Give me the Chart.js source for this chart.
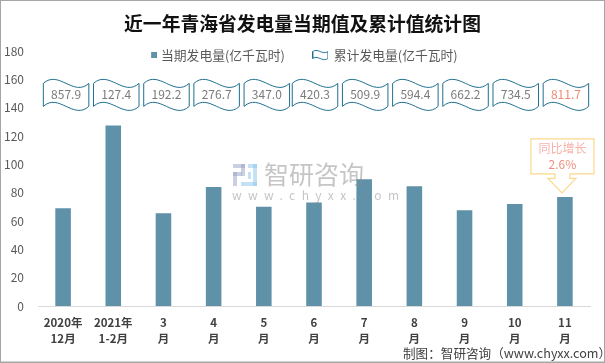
<!DOCTYPE html>
<html>
<head>
<meta charset="utf-8">
<script src="https://cdn.jsdelivr.net/npm/chart.js@4"></script>
<style>
html, body { margin: 0; padding: 0; background: #fff; }
canvas { display: block; }
</style>
</head>
<body>
<canvas id="chart" width="605" height="363"></canvas>
<script>
var categories = [["2020年", "12月"], ["2021年", "1-2月"], ["3", "月"], ["4", "月"], ["5", "月"], ["6", "月"], ["7", "月"], ["8", "月"], ["9", "月"], ["10", "月"], ["11", "月"]];
var currentValues = [69, 127.4, 65.5, 84, 70, 73, 89.5, 84.5, 67.5, 72, 77];
var cumulativeValues = [857.9, 127.4, 192.2, 276.7, 347.0, 420.3, 509.9, 594.4, 662.2, 734.5, 811.7];
var yearOnYear = "2.6%";
var yTicks = [0, 20, 40, 60, 80, 100, 120, 140, 160, 180];

var CJK = '"Noto Sans CJK SC", sans-serif';
var BAR_COLOR = "#5f91a9";
var WAVE_COLOR = "#1f6f8f";
var LEGEND_GAP = 28.6;

function wavePath(ctx, l, t, w, h) {
	// flag shape: same wave on top and bottom edge
	var a = 14;
	ctx.beginPath();
	ctx.moveTo(l, t);
	ctx.bezierCurveTo(l + w / 3, t - a, l + w * 2 / 3, t + a, l + w, t);
	ctx.lineTo(l + w, t + h);
	ctx.bezierCurveTo(l + w * 2 / 3, t + h + a, l + w / 3, t + h - a, l, t + h);
	ctx.closePath();
}

function squareIcon() {
	var c = document.createElement("canvas");
	c.width = 19; c.height = 8;
	var g = c.getContext("2d");
	g.fillStyle = BAR_COLOR;
	g.fillRect(13, 1, 6, 6);
	return c;
}

function waveIcon() {
	var c = document.createElement("canvas");
	c.width = 16; c.height = 12;
	var g = c.getContext("2d");
	g.strokeStyle = WAVE_COLOR;
	g.lineWidth = 1;
	var a = 4;
	g.beginPath();
	g.moveTo(0.5, 2.5);
	g.bezierCurveTo(5, 2.5 - a, 10, 2.5 + a, 15.5, 2.5);
	g.lineTo(15.5, 9.5);
	g.bezierCurveTo(10, 9.5 + a, 5, 9.5 - a, 0.5, 9.5);
	g.closePath();
	g.stroke();
	return c;
}

var decorations = {
	id: "decorations",
	afterInit: function(chart) {
		// legend takes no room in the layout, it sits partly over the plot area
		var legend = chart.legend;
		var fit = legend.fit;
		legend.fit = function() {
			fit.call(this);
			this.height = 0;
		};
	},
	afterLayout: function(chart) {
		var legend = chart.legend;
		legend.left = 140.6 - LEGEND_GAP;
		legend.right = 605;
		legend.top = 48.6 - LEGEND_GAP;
		legend.bottom = 70;
	},
	afterDatasetsDraw: function(chart) {
		var ctx = chart.ctx;
		var y = chart.scales.y;
		var points = chart.getDatasetMeta(1).data;
		var bars = chart.getDatasetMeta(0).data;

		// wave boxes with the cumulative values
		ctx.save();
		points.forEach(function(p, i) {
			var cx = p.x + (i < 5 ? 3 : 1);
			var cy = y.getPixelForValue(149);
			var w = 45.5, h = 23;
			ctx.fillStyle = "#fff";
			ctx.strokeStyle = WAVE_COLOR;
			ctx.lineWidth = 1;
			wavePath(ctx, cx - w / 2, cy - h / 2, w, h);
			ctx.fill();
			ctx.stroke();
			ctx.fillStyle = i === points.length - 1 ? "#f08a72" : "#7b7b7b";
			ctx.font = "12px " + CJK;
			ctx.textAlign = "center";
			ctx.textBaseline = "middle";
			ctx.fillText(cumulativeValues[i].toFixed(1), cx, cy);
		});
		ctx.restore();

		// watermark
		ctx.save();
		ctx.fillStyle = "rgba(140,140,140,0.5)";
		ctx.font = "25px " + CJK;
		ctx.textAlign = "left";
		ctx.textBaseline = "middle";
		ctx.fillText("智研咨询", 264, 174);
		ctx.font = "12px " + CJK;
		ctx.letterSpacing = "6.4px";
		ctx.fillText("www.chyxx.com", 232, 195);
		ctx.letterSpacing = "0px";
		ctx.fillStyle = "rgba(150,160,200,0.5)";
		ctx.fillRect(233, 164, 12, 4);
		ctx.fillRect(241, 164, 4, 12);
		ctx.fillRect(233, 172, 9, 4);
		ctx.fillRect(233, 172, 4, 14);
		ctx.fillStyle = "rgba(140,195,235,0.5)";
		ctx.fillRect(248, 164, 9, 4);
		ctx.fillRect(253, 164, 4, 22);
		ctx.fillRect(241, 182, 16, 4);
		ctx.fillRect(248, 172, 3, 7);
		ctx.restore();

		// callout above the last bar
		var last = bars[bars.length - 1];
		var tipX = last.x - 3, tipY = last.y - 4;
		ctx.save();
		ctx.strokeStyle = "#fbd88c";
		ctx.fillStyle = "#fff";
		ctx.lineWidth = 1.2;
		ctx.beginPath();
		ctx.moveTo(tipX - 31, tipY - 54);
		ctx.lineTo(tipX + 32, tipY - 54);
		ctx.lineTo(tipX + 32, tipY - 19);
		ctx.lineTo(tipX + 8, tipY - 19);
		ctx.lineTo(tipX + 8, tipY - 14.5);
		ctx.lineTo(tipX + 14, tipY - 14.5);
		ctx.lineTo(tipX, tipY);
		ctx.lineTo(tipX - 14, tipY - 14.5);
		ctx.lineTo(tipX - 7, tipY - 14.5);
		ctx.lineTo(tipX - 7, tipY - 19);
		ctx.lineTo(tipX - 31, tipY - 19);
		ctx.closePath();
		ctx.fill();
		ctx.stroke();
		ctx.textAlign = "center";
		ctx.textBaseline = "middle";
		ctx.font = "12px " + CJK;
		ctx.fillStyle = "#f5b3aa";
		ctx.fillText("同比增长", tipX + 0.5, tipY - 44);
		ctx.fillStyle = "#ee8f7e";
		ctx.fillText(yearOnYear, tipX + 0.5, tipY - 28);
		ctx.restore();

		// source line and frame
		ctx.save();
		ctx.fillStyle = "#404040";
		ctx.font = "12.6px " + CJK;
		ctx.textAlign = "left";
		ctx.textBaseline = "middle";
		ctx.fillText("制图：智研咨询（www.chyxx.com）", 403, 353);
		ctx.strokeStyle = "#a6a6a6";
		ctx.lineWidth = 2;
		ctx.strokeRect(0, 0, chart.width, chart.height - 0.5);
		ctx.restore();
	}
};

new Chart(document.getElementById("chart").getContext("2d"), {
	data: {
		labels: categories,
		datasets: [{
			type: "bar",
			label: "当期发电量(亿千瓦时)",
			data: currentValues,
			backgroundColor: BAR_COLOR,
			barPercentage: 0.31,
			categoryPercentage: 1,
			order: 1
		}, {
			type: "line",
			label: "累计发电量(亿千瓦时)",
			data: cumulativeValues,
			yAxisID: "y2",
			showLine: false,
			pointRadius: 0,
			order: 0
		}]
	},
	options: {
		responsive: false,
		animation: false,
		plugins: {
			tooltip: { enabled: false },
			title: {
				display: true,
				text: "近一年青海省发电量当期值及累计值统计图",
				color: "#111",
				font: { family: CJK, size: 18.8, weight: "bold", lineHeight: 1.2 },
				padding: { top: 13, bottom: 15.4 }
			},
			legend: {
				display: true,
				position: "top",
				align: "start",
				labels: {
					usePointStyle: true,
					pointStyleWidth: 14,
					boxHeight: 12,
					padding: LEGEND_GAP,
					color: "#595959",
					font: { family: CJK, size: 12.8 },
					generateLabels: function() {
						return [
							{ text: "当期发电量(亿千瓦时)", pointStyle: squareIcon(), fontColor: "#595959", lineWidth: 0, datasetIndex: 0 },
							{ text: "累计发电量(亿千瓦时)", pointStyle: waveIcon(), fontColor: "#595959", lineWidth: 0, datasetIndex: 1 }
						];
					}
				}
			}
		},
		scales: {
			x: {
				grid: { display: false, drawTicks: false },
				border: { color: "#d9d9d9", width: 1 },
				ticks: {
					color: "#404040",
					maxRotation: 0,
					autoSkip: false,
					padding: 9,
					font: { family: CJK, size: 11.5, weight: "bold", lineHeight: 1.35 }
				},
				afterFit: function(scale) { scale.height = 57; }
			},
			y: {
				min: 0,
				max: 180,
				grid: { display: false, drawTicks: false },
				border: { display: false },
				afterBuildTicks: function(scale) {
					scale.ticks = yTicks.map(function(v) { return { value: v }; });
				},
				ticks: {
					color: "#595959",
					padding: 14,
					font: { family: CJK, size: 12 }
				},
				afterFit: function(scale) {
					scale.width = 38;
					scale.paddingTop = 0;
					scale.paddingBottom = 0;
				}
			},
			y2: {
				position: "right",
				min: 0,
				max: 1000,
				grid: { display: false, drawTicks: false },
				border: { display: false },
				ticks: { display: false },
				afterFit: function(scale) {
					scale.width = 15;
					scale.paddingTop = 0;
					scale.paddingBottom = 0;
				}
			}
		}
	},
	plugins: [decorations]
});
</script>
</body>
</html>
